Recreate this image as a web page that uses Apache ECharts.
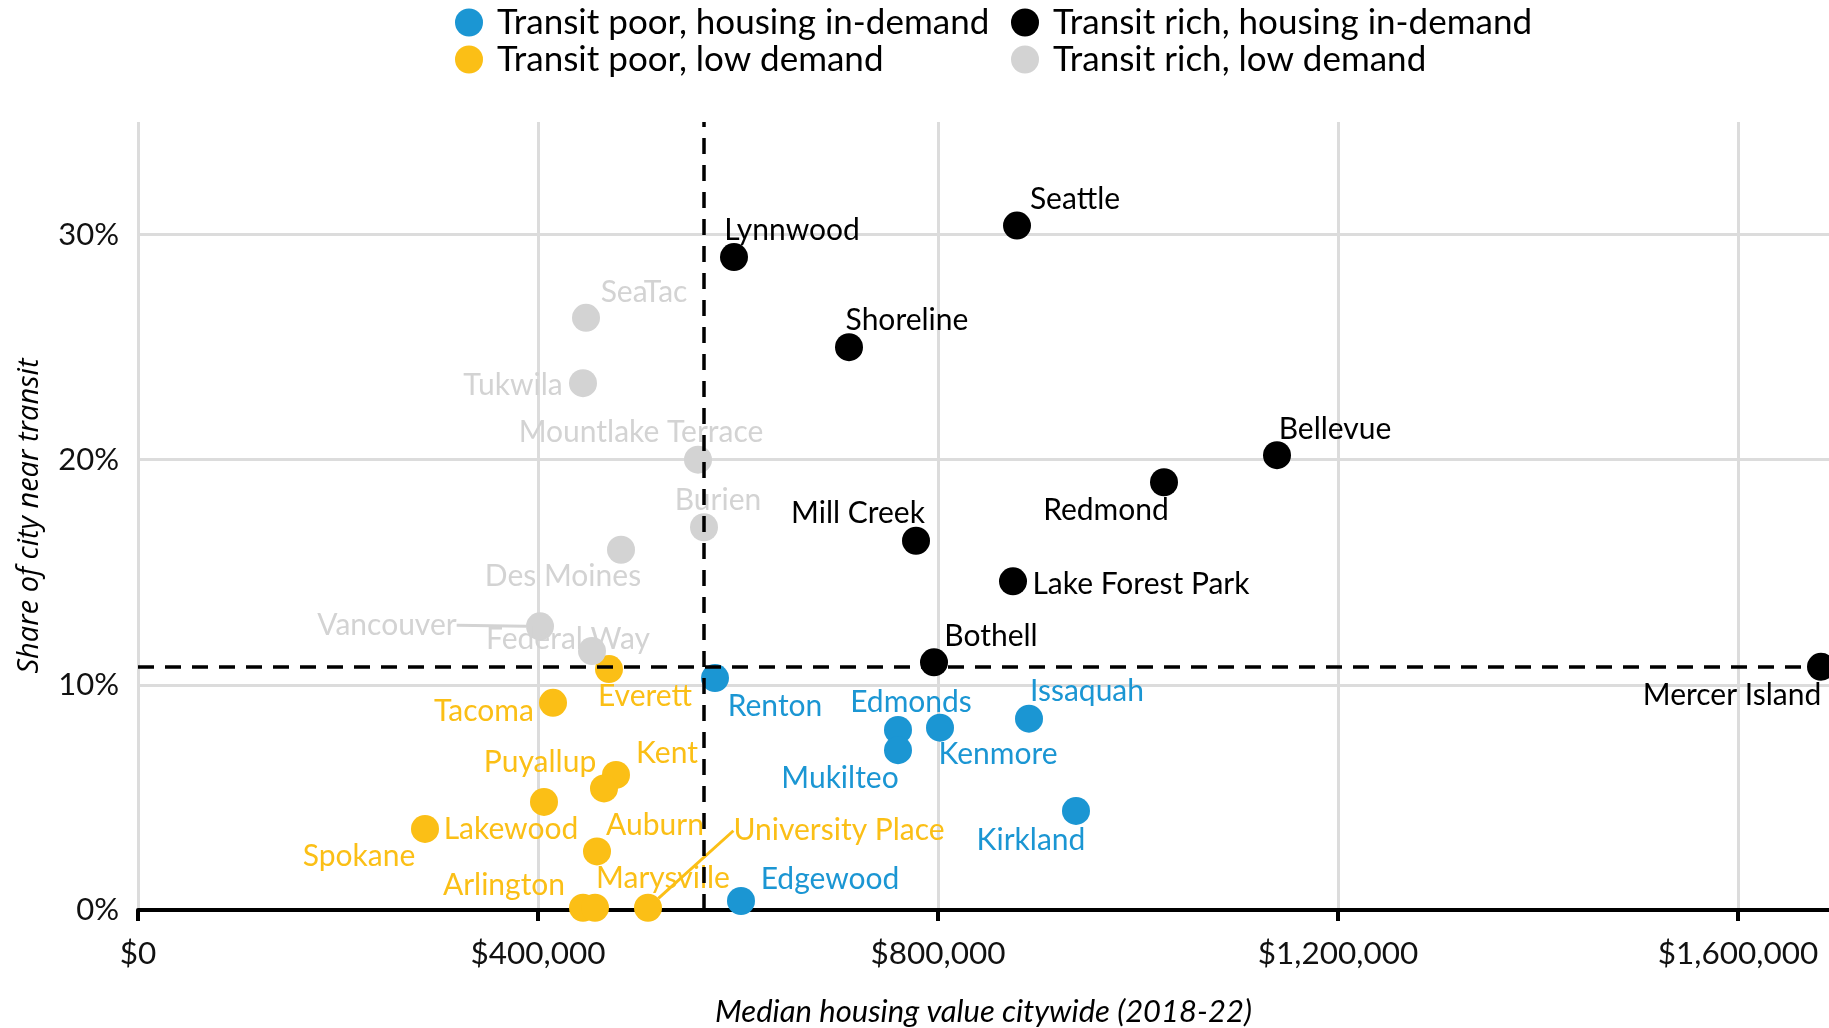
<!DOCTYPE html>
<html>
<head>
<meta charset="utf-8">
<script src="https://cdn.jsdelivr.net/npm/echarts@6/dist/echarts.min.js"></script>
<style>
  html, body { margin: 0; padding: 0; background: #fff; }
  #chart { width: 1829px; height: 1028px; }
</style>
</head>
<body>
<div id="chart"></div>
<script>
  // city groups: names, median housing value, share near transit (%)
  var richDemandNames = ['Seattle', 'Lynnwood', 'Shoreline', 'Bellevue', 'Redmond', 'Mill Creek', 'Lake Forest Park', 'Bothell', 'Mercer Island'];
  var richDemandValue = [879000, 596000, 711000, 1139000, 1026000, 778000, 875000, 796000, 1683000];
  var richDemandShare = [30.4, 29.0, 25.0, 20.2, 19.0, 16.4, 14.6, 11.0, 10.8];

  var richLowNames = ['SeaTac', 'Tukwila', 'Mountlake Terrace', 'Burien', 'Des Moines', 'Vancouver', 'Federal Way'];
  var richLowValue = [448000, 445000, 560000, 566000, 483000, 402000, 454000];
  var richLowShare = [26.3, 23.4, 20.0, 17.0, 16.0, 12.6, 11.5];

  var poorDemandNames = ['Renton', 'Edmonds', 'Kenmore', 'Mukilteo', 'Issaquah', 'Kirkland', 'Edgewood'];
  var poorDemandValue = [577000, 760000, 802000, 760000, 891000, 938000, 603000];
  var poorDemandShare = [10.3, 8.0, 8.1, 7.1, 8.5, 4.4, 0.4];

  var poorLowNames = ['Everett', 'Tacoma', 'Kent', 'Puyallup', 'Lakewood', 'Spokane', 'Auburn', 'Arlington', 'Marysville', 'University Place'];
  var poorLowValue = [471000, 415000, 478000, 466000, 406000, 287000, 459000, 445000, 457000, 510000];
  var poorLowShare = [10.7, 9.2, 6.0, 5.4, 4.8, 3.6, 2.6, 0.1, 0.1, 0.1];

  var medianValue = 566000;
  var medianShare = 10.8;

  var xTicks = [0, 400000, 800000, 1200000, 1600000];
  var yTicks = [0, 10, 20, 30];

  // label placement (pixels from the point), like the repelled labels
  var labelOffset = {
    'Seattle': [58, -26], 'Lynnwood': [58, -27], 'Shoreline': [58, -27], 'Bellevue': [58, -26],
    'Redmond': [-58, 28], 'Mill Creek': [-58, -27], 'Lake Forest Park': [128, 3], 'Bothell': [57, -26],
    'Mercer Island': [-89, 28],
    'SeaTac': [58, -26], 'Tukwila': [-70, 2], 'Mountlake Terrace': [-57, -27], 'Burien': [14, -27],
    'Des Moines': [-58, 27], 'Vancouver': [-153, -1], 'Federal Way': [-24, -12],
    'Renton': [60, 28], 'Edmonds': [13, -28], 'Kenmore': [58, 27], 'Mukilteo': [-58, 28],
    'Issaquah': [58, -27], 'Kirkland': [-45, 29], 'Edgewood': [89, -22],
    'Everett': [36, 27], 'Tacoma': [-69, 8], 'Kent': [51, -22], 'Puyallup': [-64, -26],
    'Lakewood': [-33, 27], 'Spokane': [-66, 27], 'Auburn': [58, -26], 'Arlington': [-79, -22],
    'Marysville': [68, -29], 'University Place': [191, -77]
  };
  var withLeader = ['Vancouver', 'University Place'];

  var chart = echarts.init(document.getElementById('chart'));

  function buildData (names, xs, ys) {
    return names.map(function (n, i) {
      var item = { name: n, value: [xs[i], ys[i]] };
      if (withLeader.indexOf(n) >= 0) {
        item.labelLine = { show: true, lineStyle: { width: 3 } };
      }
      return item;
    });
  }

  function group (name, color, data) {
    return {
      name: name,
      type: 'scatter',
      symbolSize: 28,
      itemStyle: { color: color, opacity: 1 },
      label: {
        show: true,
        position: 'inside',
        formatter: '{b}',
        color: color,
        fontFamily: 'Lato',
        fontSize: 30
      },
      labelLayout: function (params) {
        var off = labelOffset[params.text] || [0, 0];
        return { dx: off[0], dy: off[1] };
      },
      data: data
    };
  }

  var fmtMoney = function (v) {
    return '$' + Number(v).toLocaleString('en-US');
  };

  var legendText = { fontFamily: 'Lato', fontSize: 35, lineHeight: 35, color: '#000', padding: [0, 0, 0, 9] };

  var option = {
    animation: false,
    textStyle: { fontFamily: 'Lato' },
    legend: [{
      orient: 'vertical',
      left: 450,
      top: 0,
      icon: 'circle',
      itemWidth: 28,
      itemHeight: 28,
      itemGap: 2,
      textStyle: legendText,
      data: ['Transit poor, housing in-demand', 'Transit poor, low demand']
    }, {
      orient: 'vertical',
      left: 1006,
      top: 0,
      icon: 'circle',
      itemWidth: 28,
      itemHeight: 28,
      itemGap: 2,
      textStyle: legendText,
      data: ['Transit rich, housing in-demand', 'Transit rich, low demand']
    }],
    grid: { left: 138, right: 0, top: 122, bottom: 118, containLabel: false, outerBoundsMode: 'none' },
    xAxis: {
      type: 'value',
      min: xTicks[0],
      max: 1691000,
      interval: xTicks[1] - xTicks[0],
      name: 'Median housing value citywide (2018-22)',
      nameLocation: 'middle',
      nameGap: 86,
      nameTextStyle: { fontFamily: 'Lato', fontStyle: 'italic', fontSize: 31, color: '#000' },
      axisLine: { show: true, lineStyle: { color: '#000', width: 4 } },
      axisTick: { show: true, length: 11, lineStyle: { color: '#000', width: 4 } },
      axisLabel: { fontFamily: 'Lato', fontSize: 31.5, color: '#111', margin: 28, showMaxLabel: false, formatter: fmtMoney },
      splitLine: { show: true, showMaxLine: false, lineStyle: { color: '#dcdcdc', width: 3 } }
    },
    yAxis: {
      type: 'value',
      min: yTicks[0],
      max: 35,
      interval: yTicks[1] - yTicks[0],
      name: 'Share of city near transit',
      nameLocation: 'middle',
      nameGap: 94,
      nameTextStyle: { fontFamily: 'Open Sans', fontStyle: 'italic', fontSize: 29, color: '#000' },
      axisLine: { show: false },
      axisTick: { show: false },
      axisLabel: { fontFamily: 'Lato', fontSize: 31, color: '#111', margin: 19, showMaxLabel: false, formatter: '{value}%' },
      splitLine: { show: true, showMaxLine: false, lineStyle: { color: '#dcdcdc', width: 3 } }
    },
    series: [
      group('Transit poor, housing in-demand', '#1b96d3', buildData(poorDemandNames, poorDemandValue, poorDemandShare)),
      group('Transit poor, low demand', '#fbbf16', buildData(poorLowNames, poorLowValue, poorLowShare)),
      group('Transit rich, housing in-demand', '#000000', buildData(richDemandNames, richDemandValue, richDemandShare)),
      group('Transit rich, low demand', '#d3d3d3', buildData(richLowNames, richLowValue, richLowShare)),
      {
        name: 'medians',
        type: 'scatter',
        data: [],
        z: 5,
        markLine: {
          silent: true,
          symbol: 'none',
          label: { show: false },
          lineStyle: { color: '#000', width: 3.5, type: [16, 11] },
          data: [{ xAxis: medianValue }, { yAxis: medianShare }]
        }
      }
    ]
  };

  chart.setOption(option);
</script>
</body>
</html>
